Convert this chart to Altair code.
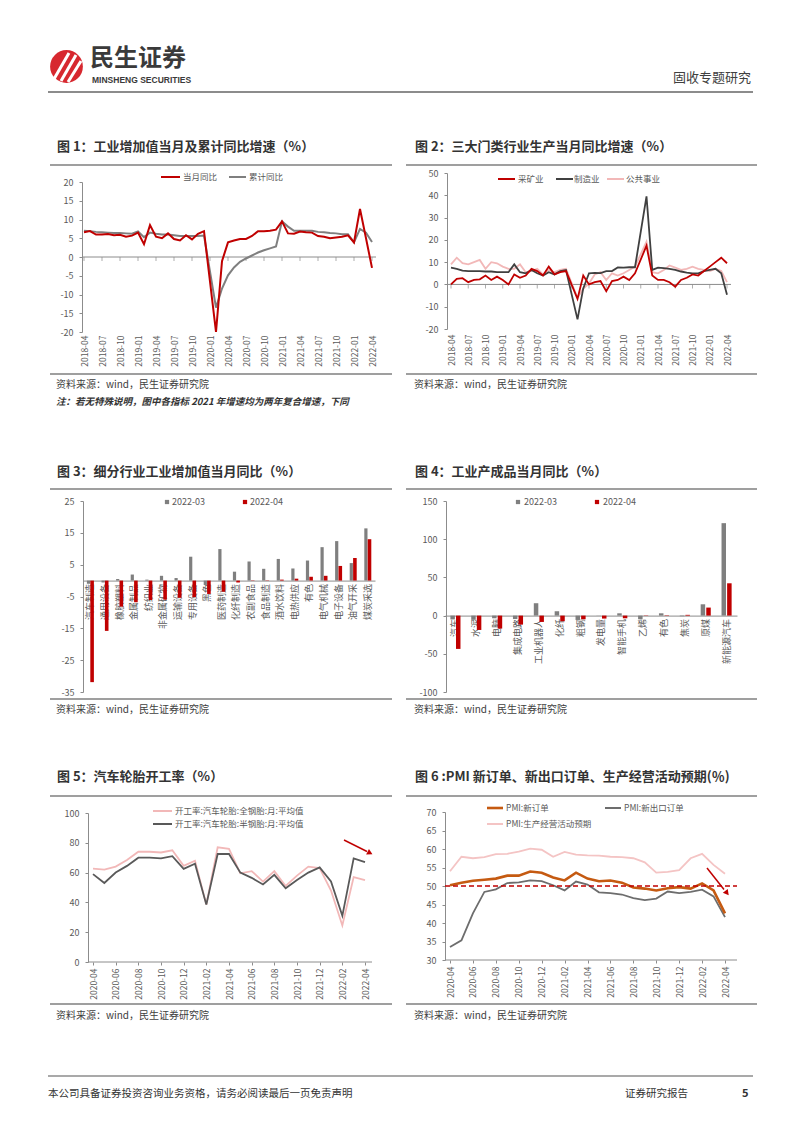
import altair as alt
import pandas as pd

FONT = "Noto Sans CJK SC"
W, H = 802, 1133
DARK = "#333333"
LAB = "#595959"
AXC = "#8c8c8c"
RED = "#c00000"
GRAY = "#7f7f7f"


def month_seq(y0, m0, n):
    out = []
    y, m = y0, m0
    for _ in range(n):
        out.append(f"{y}-{m:02d}")
        m += 1
        if m > 12:
            m, y = 1, y + 1
    return out


months_a = month_seq(2018, 4, 49)
months_b = month_seq(2020, 4, 25)

# ---------------- data ----------------
fig1_names = ["当月同比", "累计同比"]
fig1_month = [6.6, 6.9, 6.0, 6.0, 6.1, 5.8, 5.9, 5.4, 5.7,
              6.5, 3.4, 8.5, 5.4, 5.0, 6.3, 4.8, 4.4, 5.8, 4.7, 6.2, 6.9,
              None, -25.9, -1.1, 3.9, 4.4, 4.8, 4.8, 5.6, 6.9, 6.9, 7.0, 7.3,
              9.5, 6.3, 6.2, 6.8, 6.6, 6.5, 5.6, 5.4, 5.0, 5.2, 5.4, 5.8,
              3.9, 12.8, 5.0, -2.9]
fig1_cum = [7.0, 6.9, 6.7, 6.6, 6.5, 6.4, 6.4, 6.3, 6.2,
            6.8, 5.3, 6.5, 6.2, 6.0, 6.0, 5.8, 5.6, 5.6, 5.6, 5.6, 5.7,
            None, -13.5, -8.4, -4.9, -2.8, -1.3, -0.4, 0.4, 1.2, 1.8, 2.3, 2.8,
            9.5, 8.1, 7.0, 7.0, 7.0, 7.0, 6.7, 6.6, 6.4, 6.3, 6.1, 6.1,
            3.9, 7.5, 6.5, 4.0]

fig2_names = ["采矿业", "制造业", "公共事业"]
fig2_mining = [0.0, 2.5, 2.8, 1.0, 2.0, 2.3, 4.0, 2.0, 3.5,
               2.0, 0.0, 4.5, 3.0, 4.0, 7.0, 6.0, 4.0, 8.0, 4.5, 5.5, 6.0,
               None, -6.5, 4.0, 0.0, 1.0, 1.5, -3.0, 1.5, 2.0, 3.5, 2.0, 5.0,
               None, 17.4, 4.0, 2.0, 2.0, 1.0, -1.0, 2.0, 3.0, 4.5, 4.0, 6.0,
               8.0, 10.0, 12.0, 9.5]
fig2_manu = [7.5, 7.0, 6.2, 6.0, 6.0, 6.0, 5.8, 5.8, 5.5,
             5.5, 5.5, 9.0, 5.5, 5.0, 6.5, 5.0, 4.0, 5.5, 4.5, 6.0, 6.5,
             None, -15.7, -1.8, 5.0, 5.2, 5.1, 6.0, 6.0, 7.6, 7.5, 7.7, 7.7,
             None, 39.5, 6.5, 7.5, 7.3, 7.0, 6.5, 5.8, 5.3, 5.0, 5.0, 6.0,
             6.5, 7.0, 5.0, -4.6]
fig2_util = [9.0, 12.0, 9.5, 9.0, 10.0, 11.0, 7.0, 10.0, 9.5,
             8.0, 7.0, 7.0, 9.0, 5.5, 6.0, 7.0, 4.5, 6.5, 5.5, 6.5, 7.0,
             None, -6.0, -2.0, 0.5, 4.5, 5.5, 2.0, 5.0, 4.0, 5.0, 6.5, 8.0,
             None, 19.2, 5.5, 5.0, 6.5, 8.5, 7.5, 6.5, 7.0, 8.0, 7.0, 6.5,
             6.0, 7.0, 6.0, 1.0]

fig3_series = ["2022-03", "2022-04"]
fig3_cats = ["汽车制造", "通用设备", "橡胶塑料", "金属制品", "纺织业", "非金属矿物",
             "运输设备", "专用设备", "黑色", "医药制造", "化纤制造", "农副食品",
             "食品制造", "酒水饮料", "电热供应", "有色", "电气机械", "电子设备",
             "油气开采", "煤炭采选"]
fig3_mar = [-1.0, -0.6, 0.5, 1.9, 0.3, 1.5, 0.8, 7.5, -1.4, 9.9,
            2.8, 6.0, 3.7, 6.8, 3.8, 6.3, 10.5, 12.4, 5.5, 16.4]
fig3_apr = [-31.9, -15.8, -8.2, -6.8, -6.1, -6.0, -5.4, -5.2, -4.2, -3.5,
            -0.6, -0.1, 0.1, 0.3, 0.6, 1.2, 1.5, 4.6, 7.1, 13.0]

fig4_cats = ["汽车", "水泥", "电脑", "集成电路", "工业机器人", "化纤", "粗钢",
             "发电量", "智能手机", "乙烯", "有色", "焦炭", "原煤", "新能源汽车"]
fig4_mar = [-5.0, -5.5, -3.5, -4.5, 16.2, 5.7, -5.7, 0.2, 3.0, -4.8, 3.0, -0.8, 14.8, 121.0]
fig4_apr = [-43.6, -18.8, -17.0, -11.8, -8.3, -7.4, -4.8, -3.9, -3.5, 0.4, 0.5, 1.0, 10.5, 42.3]

fig5_names = ["开工率:汽车轮胎:全钢胎:月:平均值", "开工率:汽车轮胎:半钢胎:月:平均值"]
fig5_all_steel = [62.6, 62.0, 64.0, 68.5, 74.0, 74.0, 73.5, 75.0, 64.5, 68.0, 38.5, 77.0, 76.0,
                  59.5, 61.0, 54.0, 61.0, 51.0, 58.0, 64.0, 63.0, 48.0, 24.5, 57.0, 55.0]
fig5_semi_steel = [59.0, 53.0, 60.0, 64.5, 70.0, 70.0, 69.5, 71.0, 62.5, 66.0, 38.5, 72.5, 72.5,
                   60.0, 56.5, 52.0, 58.5, 49.5, 55.0, 60.0, 63.5, 54.0, 31.0, 69.5, 67.0]

fig6_names = ["PMI:新订单", "PMI:新出口订单", "PMI:生产经营活动预期"]
fig6_new = [50.2, 50.9, 51.4, 51.7, 52.0, 52.8, 52.8, 53.9, 53.6, 52.3, 51.5, 53.6, 52.0,
            51.3, 51.5, 50.9, 49.6, 49.3, 48.8, 49.4, 49.7, 49.3, 50.7, 48.8, 42.6]
fig6_export = [33.5, 35.3, 42.6, 48.4, 49.1, 50.8, 51.0, 51.5, 51.3, 50.2, 48.8, 51.2, 50.4,
               48.3, 48.1, 47.7, 46.7, 46.2, 46.6, 48.5, 48.1, 48.4, 49.0, 47.2, 41.6]
fig6_expect = [54.0, 57.9, 57.5, 57.8, 58.6, 58.7, 59.3, 60.1, 59.8, 57.9, 59.2, 58.5, 58.3,
               58.2, 57.9, 57.8, 57.5, 56.4, 53.6, 53.8, 54.3, 57.5, 58.7, 55.7, 53.3]
fig6_ref = 50

titles = ["图 1：工业增加值当月及累计同比增速（%）",
          "图 2：三大门类行业生产当月同比增速（%）",
          "图 3：细分行业工业增加值当月同比（%）",
          "图 4：工业产成品当月同比（%）",
          "图 5：汽车轮胎开工率（%）",
          "图 6 :PMI 新订单、新出口订单、生产经营活动预期(％)"]
source = "资料来源：wind，民生证券研究院"
note = "注：若无特殊说明，图中各指标 2021 年增速均为两年复合增速，下同"

# ---------------- helpers ----------------
ONE = pd.DataFrame({"k": [0]})


def text(s, x, y, size=10, color=DARK, weight="normal", align="left", style="normal", font=FONT):
    return alt.Chart(ONE).mark_text(align=align, baseline="middle", fontSize=size, font=font,
                                    fontWeight=weight, fontStyle=style, color=color).encode(
        x=alt.value(x), y=alt.value(y), text=alt.value(s))


def seg(x1, y1, x2, y2, color, w=1.0, dash=None):
    kw = dict(color=color, strokeWidth=w)
    if dash:
        kw["strokeDash"] = dash
    return alt.Chart(ONE).mark_rule(**kw).encode(
        x=alt.value(x1), y=alt.value(y1), x2=alt.value(x2), y2=alt.value(y2))


def y_axis(vals, xpos, pad=6):
    return alt.Axis(orient="left", offset=-xpos, values=vals, title=None, grid=False,
                    labelFont=FONT, labelFontSize=9, labelColor=LAB, labelPadding=pad,
                    labelExpr="'' + datum.value",
                    domainColor=AXC, tickColor=AXC, tickSize=3)


def x_axis(vals, ypos, domain=False, ticks=False, pad=3, size=8.5):
    return alt.Axis(orient="bottom", offset=-(H - ypos), values=vals, title=None, grid=False,
                    labelAngle=-90, labelAlign="right", labelBaseline="middle",
                    labelFont=FONT, labelFontSize=size, labelColor=LAB, labelPadding=pad,
                    labelOverlap=False, domain=domain, ticks=ticks,
                    domainColor=AXC, tickColor=AXC, tickSize=3)


def line_layer(months, vals, color, xsc, ysc, width=1.8, xax=None, yax=None):
    df = pd.DataFrame({"m": months, "v": vals}).dropna()
    return alt.Chart(df).mark_line(color=color, strokeWidth=width).encode(
        x=alt.X("m:O", scale=xsc, axis=xax),
        y=alt.Y("v:Q", scale=ysc, axis=yax))


def bar_layer(cats, vals, color, xsc, ysc, size, xoff, xax=None, yax=None):
    df = pd.DataFrame({"c": cats, "v": vals})
    return alt.Chart(df).mark_bar(color=color, size=size, xOffset=xoff).encode(
        x=alt.X("c:N", scale=xsc, axis=xax),
        y=alt.Y("v:Q", scale=ysc, axis=yax, stack=None))


def zero_ticks(months, vals, xsc, ysc):
    df = pd.DataFrame({"m": vals, "z": [0] * len(vals)})
    return alt.Chart(df).mark_tick(orient="vertical", size=4, thickness=1, yOffset=2, color=AXC).encode(
        x=alt.X("m:O", scale=xsc, axis=None),
        y=alt.Y("z:Q", scale=ysc, axis=None))


def hrule_data(value, ysc, x1, x2, color, w=1.0, dash=None):
    kw = dict(color=color, strokeWidth=w)
    if dash:
        kw["strokeDash"] = dash
    df = pd.DataFrame({"z": [value]})
    return alt.Chart(df).mark_rule(**kw).encode(
        y=alt.Y("z:Q", scale=ysc, axis=None), x=alt.value(x1), x2=alt.value(x2))


def arrow(x1, y1, x2, y2, ang):
    return [seg(x1, y1, x2 - 3, y2 - 1.5 if ang < 130 else y2 - 3.5, RED, 1.5),
            alt.Chart(ONE).mark_point(shape="triangle-up", filled=True, size=40, color=RED,
                                      opacity=1, angle=ang).encode(x=alt.value(x2), y=alt.value(y2))]


layers = []

# ---------------- header / footer ----------------
layers.append(alt.Chart(ONE).mark_circle(size=1075, color="#d7282f", opacity=1).encode(
    x=alt.value(66.5), y=alt.value(66.5)))
layers += [seg(54, 79, 69, 53, "white", 3), seg(61, 81, 76, 55, "white", 3), seg(68, 82, 81, 61, "white", 3)]
layers.append(text("民生证券", 90, 59, size=24, weight="bold", color="#3a3a3a"))
layers.append(text("MINSHENG SECURITIES", 92, 80, size=8.5, weight="bold", color="#3a3a3a",
                   font="Liberation Sans Narrow, Liberation Sans"))
layers.append(text("固收专题研究", 751, 78, size=13, color="#404040", align="right"))
layers.append(seg(48, 92, 753, 92, "#8c8c8c", 2))

layers.append(seg(48, 1076, 753, 1076, "#8c8c8c", 1.5))
layers.append(text("本公司具备证券投资咨询业务资格，请务必阅读最后一页免责声明", 48, 1094, size=10.5, color=DARK))
layers.append(text("证券研究报告", 625, 1094, size=10.5, color=DARK))
layers.append(text("5", 742, 1094, size=11, weight="bold", color=DARK))

# ---------------- panel frames ----------------
rows = [(147, 165, 374, 385), (472, 489, 699, 710), (777, 796, 1004, 1016)]
for r, (ty, ly, by, sy) in enumerate(rows):
    for c, (x0, x1, tx) in enumerate([(50, 392, 57), (406, 757, 415)]):
        layers.append(text(titles[2 * r + c], tx, ty, size=13, weight="bold", color=DARK))
        layers.append(seg(x0, ly, x1, ly, "#404040", 1.2))
        layers.append(seg(x0, by, x1, by, "#404040", 1.2))
        layers.append(text(source, tx - 1, sy, size=10, color="#404040"))
layers.append(text(note, 56, 402, size=9.5, weight="bold", style="italic", color=DARK))

# ---------------- figure 1 ----------------
xs1 = alt.Scale(type="point", domain=months_a, range=[84, 372], padding=0)
ys1 = alt.Scale(domain=[-20, 20], range=[332, 182], nice=False, zero=False, clamp=True)
layers.append(hrule_data(0, ys1, 82, 376, AXC))
layers.append(zero_ticks(months_a, months_a[::3], xs1, ys1))
layers.append(line_layer(months_a, fig1_cum, GRAY, xs1, ys1, 2.0,
                         xax=x_axis(months_a[::3], 332), yax=y_axis(list(range(-20, 21, 5)), 82)))
layers.append(line_layer(months_a, fig1_month, RED, xs1, ys1, 2.0))
layers += [seg(161, 177, 180, 177, RED, 2), text(fig1_names[0], 183, 177, 8.5, LAB),
           seg(229, 177, 246, 177, GRAY, 2), text(fig1_names[1], 249, 177, 8.5, LAB)]

# ---------------- figure 2 ----------------
xs2 = alt.Scale(type="point", domain=months_a, range=[451, 727], padding=0)
ys2 = alt.Scale(domain=[-20, 50], range=[329, 173], nice=False, zero=False)
C2 = [RED, "#404040", "#f2b8b8"]
layers.append(hrule_data(0, ys2, 447, 731, AXC))
layers.append(zero_ticks(months_a, months_a[::3], xs2, ys2))
layers.append(line_layer(months_a, fig2_util, C2[2], xs2, ys2, 1.8,
                         xax=x_axis(months_a[::3], 331), yax=y_axis(list(range(-20, 51, 10)), 447)))
layers.append(line_layer(months_a, fig2_manu, C2[1], xs2, ys2, 1.8))
layers.append(line_layer(months_a, fig2_mining, C2[0], xs2, ys2, 1.8))
for (lx, tx_), nm, col in zip([(498, 518), (556, 574), (607, 626)], fig2_names, C2):
    layers += [seg(lx, 179, lx + 17, 179, col, 2), text(nm, tx_, 179, 8.5, LAB)]

# ---------------- figure 3 ----------------
xs3 = alt.Scale(type="band", domain=fig3_cats, range=[83, 375], paddingInner=0.45, paddingOuter=0.225)
ys3 = alt.Scale(domain=[-35, 25], range=[692, 501], nice=False, zero=False)
zero3 = 501 + 25 / 60 * 191
layers.append(bar_layer(fig3_cats, fig3_mar, GRAY, xs3, ys3, 3.2, -1.8,
                        xax=x_axis(fig3_cats, zero3, domain=True, pad=3, size=9),
                        yax=y_axis(list(range(-35, 26, 10)), 83)))
layers.append(bar_layer(fig3_cats, fig3_apr, RED, xs3, ys3, 3.6, 1.8))
layers += [alt.Chart(ONE).mark_square(size=18, color=GRAY, opacity=1).encode(x=alt.value(167), y=alt.value(502)),
           text(fig3_series[0], 172, 502, 9, LAB),
           alt.Chart(ONE).mark_square(size=18, color=RED, opacity=1).encode(x=alt.value(245), y=alt.value(502)),
           text(fig3_series[1], 250, 502, 9, LAB)]

# ---------------- figure 4 ----------------
xs4 = alt.Scale(type="band", domain=fig4_cats, range=[445, 737], paddingInner=0.45, paddingOuter=0.225)
ys4 = alt.Scale(domain=[-100, 150], range=[692, 501], nice=False, zero=False)
zero4 = 501 + 150 / 250 * 191
layers.append(bar_layer(fig4_cats, fig4_mar, GRAY, xs4, ys4, 4.5, -2.8,
                        xax=x_axis(fig4_cats, zero4, domain=True, pad=3, size=9),
                        yax=y_axis(list(range(-100, 151, 50)), 446)))
layers.append(bar_layer(fig4_cats, fig4_apr, RED, xs4, ys4, 4.5, 2.8))
layers += [alt.Chart(ONE).mark_square(size=18, color=GRAY, opacity=1).encode(x=alt.value(518), y=alt.value(502)),
           text(fig3_series[0], 524, 502, 9, LAB),
           alt.Chart(ONE).mark_square(size=18, color=RED, opacity=1).encode(x=alt.value(597), y=alt.value(502)),
           text(fig3_series[1], 603, 502, 9, LAB)]

# ---------------- figure 5 ----------------
xs5 = alt.Scale(type="point", domain=months_b, range=[93, 365], padding=0)
ys5 = alt.Scale(domain=[0, 100], range=[962, 813], nice=False, zero=False)
C5 = ["#f2b8b8", "#595959"]
layers.append(hrule_data(0, ys5, 88, 372, AXC))
layers.append(line_layer(months_b, fig5_all_steel, C5[0], xs5, ys5, 1.8,
                         xax=x_axis(months_b[::2], 962, ticks=True, pad=3),
                         yax=y_axis(list(range(0, 101, 20)), 88)))
layers.append(line_layer(months_b, fig5_semi_steel, C5[1], xs5, ys5, 1.8))
layers += [seg(153, 811, 172, 811, C5[0], 2), text(fig5_names[0], 175, 811, 8.5, LAB),
           seg(153, 824, 172, 824, C5[1], 2), text(fig5_names[1], 175, 824, 8.5, LAB)]
layers += arrow(344, 840, 370, 853, 116.6)

# ---------------- figure 6 ----------------
xs6 = alt.Scale(type="point", domain=months_b, range=[450, 725], padding=0)
ys6 = alt.Scale(domain=[30, 70], range=[960, 812], nice=False, zero=False)
C6 = ["#c55a11", "#6d6d6d", "#f4c4c4"]
layers.append(hrule_data(30, ys6, 445, 737, AXC))
layers.append(line_layer(months_b, fig6_expect, C6[2], xs6, ys6, 1.8,
                         xax=x_axis(months_b[::2], 960, ticks=True, pad=3),
                         yax=y_axis(list(range(30, 71, 5)), 445)))
layers.append(line_layer(months_b, fig6_export, C6[1], xs6, ys6, 1.8))
layers.append(line_layer(months_b, fig6_new, C6[0], xs6, ys6, 2.6))
layers.append(hrule_data(fig6_ref, ys6, 445, 737, RED, 1.5, dash=[5, 3]))
layers += [seg(487, 808, 503, 808, C6[0], 2.6), text(fig6_names[0], 506, 808, 8.5, LAB),
           seg(605, 808, 621, 808, C6[1], 2), text(fig6_names[1], 624, 808, 8.5, LAB),
           seg(487, 824, 503, 824, C6[2], 2), text(fig6_names[2], 506, 824, 8.5, LAB)]
layers += arrow(707, 868, 727, 893, 141.3)

chart = (alt.layer(*layers)
         .resolve_scale(x="independent", y="independent")
         .resolve_axis(x="independent", y="independent")
         .properties(width=W, height=H, padding=0,
                     autosize=alt.AutoSizeParams(type="none"),
                     background="white")
         .configure_view(stroke=None))

chart.save("out.html", embed_options={"renderer": "svg", "actions": False})
